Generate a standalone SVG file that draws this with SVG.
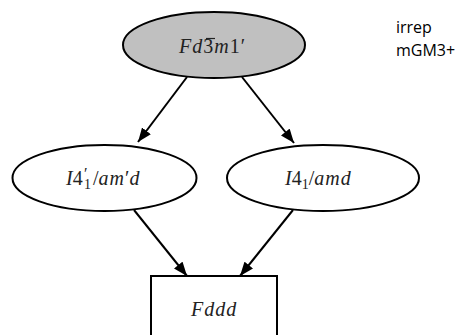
<svg xmlns="http://www.w3.org/2000/svg" width="465" height="335" viewBox="0 0 465 335">
<style>
.node{stroke:#000;stroke-width:2}
.math{font-family:'Liberation Serif',serif;font-size:20px;fill:#222}
.it{font-style:italic}
.up{font-style:normal}
.edge{stroke:#000;stroke-width:2;fill:none}
.lab{font-family:'Open Sans','Liberation Sans',sans-serif;font-size:16px;fill:#000}
</style>
<defs>
<marker id="ah" viewBox="0 0 14 11" refX="14" refY="5.5" markerWidth="14" markerHeight="11" markerUnits="userSpaceOnUse" orient="auto">
<path d="M0,0 L14,5.5 L0,11 z" fill="#000"/>
</marker>
</defs>
<rect width="465" height="335" fill="#fff"/>
<g id="edges">
<line class="edge" x1="187" y1="77" x2="138" y2="142" marker-end="url(#ah)"/>
<line class="edge" x1="242" y1="77" x2="294" y2="143" marker-end="url(#ah)"/>
<line class="edge" x1="134" y1="210" x2="187" y2="276" marker-end="url(#ah)"/>
<line class="edge" x1="293" y1="210" x2="240" y2="276" marker-end="url(#ah)"/>
</g>
<g id="n_top">
<ellipse class="node" cx="214" cy="45" rx="91" ry="33" fill="#c0c0c0"/>
<text class="math it" x="179" y="53" letter-spacing="1">Fd<tspan class="up">3</tspan>m<tspan class="up">1′</tspan></text>
<line x1="206" y1="38.5" x2="215" y2="38.5" stroke="#222" stroke-width="1.2"/>
</g>
<g id="n_left">
<ellipse class="node" cx="104.5" cy="178" rx="92" ry="33" fill="#fff"/>
<text class="math" x="66" y="185"><tspan class="it">I</tspan>4<tspan font-size="16" x="84" dy="-6">′</tspan><tspan font-size="14" x="84" dy="10">1</tspan><tspan x="93" dy="-4">/</tspan><tspan class="it" letter-spacing="1">am</tspan>′<tspan class="it">d</tspan></text>
</g>
<g id="n_right">
<ellipse class="node" cx="323" cy="178" rx="96" ry="33" fill="#fff"/>
<text class="math" x="285" y="185"><tspan class="it">I</tspan>4<tspan font-size="14" dy="4">1</tspan><tspan dy="-4">/</tspan><tspan class="it" letter-spacing="1">amd</tspan></text>
</g>
<g id="n_bottom">
<rect class="node" x="151" y="276" width="126" height="70" fill="#fff"/>
<text class="math it" x="191" y="316" letter-spacing="1">Fddd</text>
</g>
<g id="legend">
<text class="lab" x="396" y="33">irrep</text>
<text class="lab" x="396" y="56">mGM3+</text>
</g>
</svg>
